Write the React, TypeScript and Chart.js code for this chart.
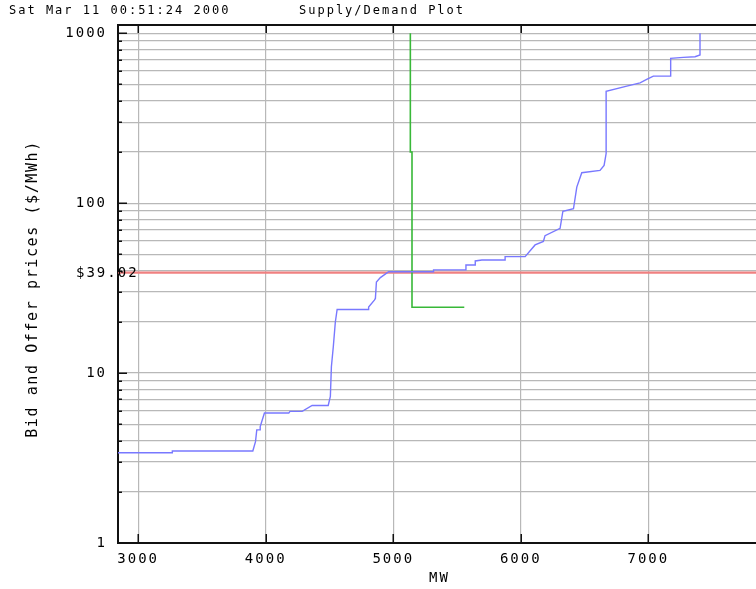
import React, { useEffect, useRef } from 'react';
import { Chart, registerables } from 'chart.js';

Chart.register(...registerables);

// ---- text ----
const TITLE_LEFT = 'Sat Mar 11 00:51:24 2000';
const TITLE_CENTER = 'Supply/Demand Plot';
const X_TITLE = 'MW';
const Y_TITLE = 'Bid and Offer prices ($/MWh)';

// ---- axes ----
const X_MIN = 2842;
const X_MAX = 7844;
const Y_MIN = 1;
const Y_MAX = 1119;
const X_TICKS = [3000, 4000, 5000, 6000, 7000];
const Y_TICKS = [
  1, 2, 3, 4, 5, 6, 7, 8, 9,
  10, 20, 30, 40, 50, 60, 70, 80, 90,
  100, 200, 300, 400, 500, 600, 700, 800, 900,
  1000,
];
const Y_LABELED = [1, 10, 100, 1000];

// ---- clearing price ----
const CLEARING_PRICE = 39.02;
const CLEARING_LABEL = '$39.02';

// ---- supply (offers) ----
const SUPPLY_MW = [
  2842, 3268, 3268, 3899, 3920, 3930, 3957, 3957, 3990, 4181,
  4190, 4286, 4364, 4490, 4507, 4515, 4530, 4546, 4560, 4803,
  4807, 4852, 4860, 4868, 4899, 4951, 4964, 5316, 5316, 5570,
  5570, 5643, 5643, 5695, 5877, 5877, 6034, 6112, 6177, 6190,
  6308, 6330, 6413, 6439, 6478, 6621, 6653, 6669, 6669, 6831,
  6935, 6987, 7039, 7175, 7175, 7274, 7366, 7405, 7405,
];
const SUPPLY_PRICE = [
  3.40, 3.40, 3.48, 3.48, 3.95, 4.63, 4.63, 4.85, 5.82, 5.82,
  5.95, 5.95, 6.45, 6.45, 7.3, 10.9, 14.3, 20.0, 23.7, 23.7,
  24.5, 26.9, 27.5, 34.4, 36.5, 38.9, 39.5, 39.5, 40.5, 40.5,
  43.3, 43.3, 45.7, 46.3, 46.3, 48.5, 48.5, 56.8, 59.6, 64.4,
  71.1, 89.7, 92.7, 124.3, 151.2, 156, 167, 196, 456, 489,
  511, 535, 560, 560, 712, 722, 728, 745, 1000,
];

// ---- demand (bids) ----
const DEMAND_MW = [5134, 5134, 5147, 5147, 5557];
const DEMAND_PRICE = [1000, 200, 200, 24.4, 24.4];

const FONT = 'DejaVu Sans Mono';

const overlayPlugin = {
  id: 'overlay',
  beforeDraw(chart: any) {
    chart.ctx.letterSpacing = '2px';
  },
  afterDraw(chart: any) {
    const ctx = chart.ctx as CanvasRenderingContext2D;
    const { left, right, top, bottom } = chart.chartArea;
    const xs = chart.scales.x;
    const ys = chart.scales.y;
    ctx.save();
    // top border
    ctx.strokeStyle = '#111';
    ctx.lineWidth = 2;
    ctx.beginPath();
    ctx.moveTo(left - 1, top);
    ctx.lineTo(right, top);
    ctx.stroke();
    // tick marks
    ctx.lineWidth = 1.5;
    ctx.beginPath();
    X_TICKS.forEach((v) => {
      const p = Math.round(xs.getPixelForValue(v)) + 0.25;
      ctx.moveTo(p, top);
      ctx.lineTo(p, top + 8);
      ctx.moveTo(p, bottom);
      ctx.lineTo(p, bottom - 9);
    });
    Y_TICKS.forEach((v) => {
      const p = Math.round(ys.getPixelForValue(v)) + 0.25;
      const len = Y_LABELED.includes(v) ? 9 : 4;
      ctx.moveTo(left, p);
      ctx.lineTo(left + len, p);
    });
    ctx.stroke();

    ctx.fillStyle = '#000';
    // titles
    ctx.font = `12px "${FONT}"`;
    (ctx as any).letterSpacing = '2px';
    ctx.textAlign = 'left';
    ctx.textBaseline = 'alphabetic';
    ctx.fillText(TITLE_LEFT, 9, 13.5);
    ctx.fillText(TITLE_CENTER, 299, 13.5);

    // x title
    ctx.font = `14px "${FONT}"`;
    ctx.fillText(X_TITLE, 429, 582);

    // clearing price label
    ctx.textBaseline = 'middle';
    ctx.fillText(CLEARING_LABEL, 76, ys.getPixelForValue(CLEARING_PRICE) + 0.5);

    // y title
    ctx.font = `15px "${FONT}"`;
    (ctx as any).letterSpacing = '1.6px';
    ctx.translate(37, 289);
    ctx.rotate(-Math.PI / 2);
    ctx.textAlign = 'center';
    ctx.textBaseline = 'alphabetic';
    ctx.fillText(Y_TITLE, 0, 0);
    ctx.restore();
  },
};

export default function App() {
  const ref = useRef<HTMLCanvasElement | null>(null);

  useEffect(() => {
    if (!ref.current) return;
    const supply = SUPPLY_MW.map((x, i) => ({ x, y: SUPPLY_PRICE[i] }));
    const demand = DEMAND_MW.map((x, i) => ({ x, y: DEMAND_PRICE[i] }));
    const clearing = [
      { x: X_MIN, y: CLEARING_PRICE },
      { x: X_MAX, y: CLEARING_PRICE },
    ];
    const chart = new Chart(ref.current, {
      type: 'line',
      data: {
        datasets: [
          {
            label: 'Supply',
            data: supply,
            borderColor: '#7878ff',
            borderWidth: 1.4,
            pointRadius: 0,
            tension: 0,
          },
          {
            label: 'Demand',
            data: demand,
            borderColor: '#38b838',
            borderWidth: 1.6,
            pointRadius: 0,
            tension: 0,
          },
          {
            label: 'Clearing',
            data: clearing,
            borderColor: '#f08080',
            borderWidth: 2.2,
            pointRadius: 0,
            tension: 0,
          },
        ],
      },
      options: {
        animation: false,
        responsive: false,
        maintainAspectRatio: false,
        layout: { padding: { top: 25, left: 0, right: 0, bottom: 0 } },
        plugins: {
          legend: { display: false },
          tooltip: { enabled: false },
          title: { display: false },
        },
        scales: {
          x: {
            type: 'linear',
            min: X_MIN,
            max: X_MAX,
            afterBuildTicks: (scale: any) => {
              scale.ticks = X_TICKS.map((v) => ({ value: v }));
            },
            afterFit: (scale: any) => {
              scale.height = 46;
            },
            ticks: {
              autoSkip: false,
              maxRotation: 0,
              padding: 9,
              color: '#000',
              font: { family: FONT, size: 14, lineHeight: 1 },
              callback: (v: any) => String(v),
            },
            grid: {
              color: '#b8b8b8',
              lineWidth: 1.2,
              drawTicks: false,
              tickLength: 0,
            },
            border: { display: true, color: '#111', width: 2 },
          },
          y: {
            type: 'logarithmic',
            min: Y_MIN,
            max: Y_MAX,
            afterBuildTicks: (scale: any) => {
              scale.ticks = Y_TICKS.map((v) => ({ value: v }));
            },
            afterFit: (scale: any) => {
              scale.width = 118;
            },
            ticks: {
              autoSkip: false,
              padding: 11,
              color: '#000',
              font: { family: FONT, size: 14, lineHeight: 1 },
              callback: (v: any) => (Y_LABELED.includes(Number(v)) ? String(v) : ''),
            },
            grid: {
              color: '#b8b8b8',
              lineWidth: 1.2,
              drawTicks: false,
              tickLength: 0,
            },
            border: { display: true, color: '#111', width: 2 },
          },
        },
      },
      plugins: [overlayPlugin],
    });
    return () => chart.destroy();
  }, []);

  return (
    <div style={{ position: 'absolute', left: 0, top: 0, width: 756, height: 589, background: '#fff' }}>
      <canvas ref={ref} width={756} height={589} style={{ width: 756, height: 589, display: 'block' }} />
    </div>
  );
}
